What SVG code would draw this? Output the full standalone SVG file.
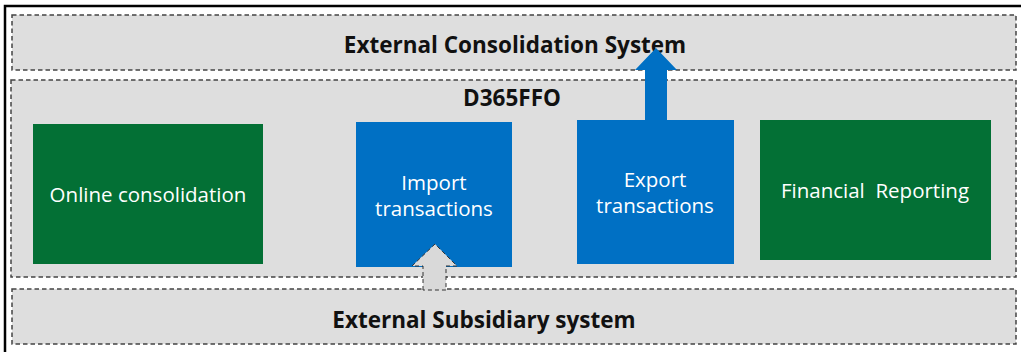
<svg xmlns="http://www.w3.org/2000/svg" width="1021" height="352" viewBox="0 0 1021 352">
<style>
.panel{fill:#dedede;stroke:#444;stroke-width:1.5;stroke-dasharray:4.5 3}
.title{font-family:"Open Sans","Liberation Sans",sans-serif;font-weight:bold;font-size:22.5px;fill:#111;text-anchor:middle}
.lbl{font-family:"Open Sans","Liberation Sans",sans-serif;font-size:20.5px;fill:#fff;text-anchor:middle}
.blue{fill:#0070c4}
.green{fill:#037035}
</style>
<rect width="1021" height="352" fill="#fff"/>
<path d="M5,352 V6 H1021" fill="none" stroke="#000" stroke-width="2.5"/>
<g id="external-consolidation">
<rect class="panel" x="12" y="15" width="1004" height="55"/>
<text class="title" x="515" y="53">External Consolidation System</text>
</g>
<g id="d365ffo">
<rect class="panel" x="11" y="80" width="1005" height="197"/>
<text class="title" x="512" y="106">D365FFO</text>
</g>
<g id="external-subsidiary">
<rect class="panel" x="12" y="289" width="1004" height="55"/>
<text class="title" x="484" y="328">External Subsidiary system</text>
</g>
<g id="online-consolidation">
<rect class="green" x="33" y="124" width="230" height="140"/>
<text class="lbl" x="148" y="202">Online consolidation</text>
</g>
<g id="import-transactions">
<rect class="blue" x="356" y="122" width="156" height="145"/>
<text class="lbl" x="434" y="190">Import<tspan x="434" dy="26">transactions</tspan></text>
</g>
<g id="export-transactions">
<rect class="blue" x="577" y="120" width="157" height="144"/>
<text class="lbl" x="655" y="187">Export<tspan x="655" dy="26">transactions</tspan></text>
</g>
<g id="financial-reporting">
<rect class="green" x="760" y="120" width="231" height="140"/>
<text class="lbl" x="875" y="198" xml:space="preserve">Financial  Reporting</text>
</g>
<g id="connectors">
<path d="M645,121 V70 H635 L656,48 L677,70 H667 V121 Z" fill="#0070c4"/>
<path d="M423,290 V266 H412 L435,244 L457,266 H446 V290 Z" fill="#d9d9d9" stroke="#333" stroke-width="1" stroke-dasharray="4 3"/>
</g>
</svg>
